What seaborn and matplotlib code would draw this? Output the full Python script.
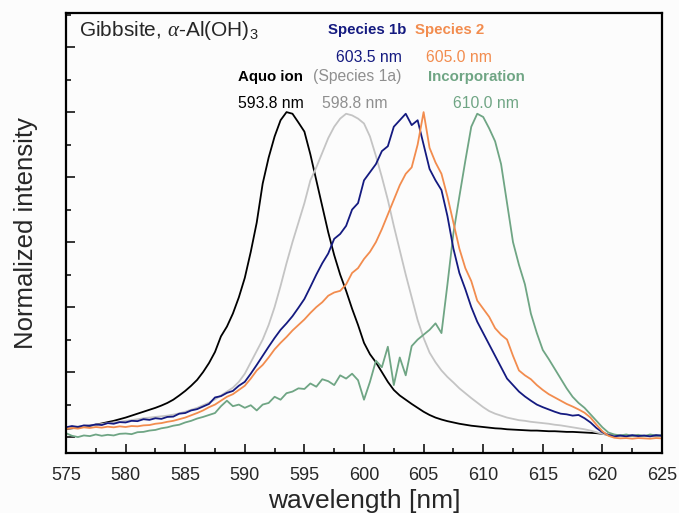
import numpy as np
import pandas as pd
import matplotlib
matplotlib.use("Agg")
import matplotlib.pyplot as plt
from matplotlib.ticker import MultipleLocator
import seaborn as sns

# wavelength grid (nm), 0.5 nm steps from 575 to 625
wavelength = [575.0 + 0.5 * i for i in range(101)]

aquo_ion = [
    0.025, 0.027, 0.029, 0.032, 0.035, 0.038, 0.042, 0.046, 0.050, 0.055,
    0.060, 0.066, 0.072, 0.078, 0.084, 0.090, 0.097, 0.105, 0.115, 0.128,
    0.142, 0.158, 0.176, 0.200, 0.228, 0.262, 0.310, 0.340, 0.380, 0.430,
    0.490, 0.570, 0.660, 0.780, 0.860, 0.925, 0.975, 1.000, 0.995, 0.968,
    0.940, 0.870, 0.790, 0.710, 0.630, 0.560, 0.500, 0.450, 0.395, 0.345,
    0.290, 0.255, 0.230, 0.200, 0.170, 0.145, 0.128, 0.115, 0.102, 0.090,
    0.078, 0.068, 0.060, 0.054, 0.049, 0.045, 0.041, 0.038, 0.035, 0.033,
    0.031, 0.029, 0.027, 0.026, 0.024, 0.023, 0.022, 0.021, 0.020, 0.020,
    0.019, 0.018, 0.018, 0.017, 0.016, 0.016, 0.015, 0.014, 0.013, 0.012,
    0.010, 0.007, 0.005, 0.004, 0.004, 0.003, 0.003, 0.003, 0.003, 0.003,
    0.003,
]

species_1a = [
    0.030, 0.031, 0.033, 0.034, 0.036, 0.038, 0.040, 0.043, 0.045, 0.047,
    0.050, 0.052, 0.055, 0.058, 0.060, 0.062, 0.064, 0.066, 0.069, 0.073,
    0.078, 0.084, 0.090, 0.098, 0.106, 0.116, 0.128, 0.140, 0.152, 0.170,
    0.195, 0.230, 0.265, 0.300, 0.345, 0.400, 0.465, 0.535, 0.600, 0.660,
    0.720, 0.790, 0.830, 0.875, 0.920, 0.955, 0.980, 0.995, 0.990, 0.980,
    0.965, 0.925, 0.865, 0.800, 0.730, 0.650, 0.575, 0.500, 0.430, 0.360,
    0.305, 0.260, 0.230, 0.205, 0.185, 0.168, 0.150, 0.135, 0.120, 0.106,
    0.092, 0.080, 0.072, 0.066, 0.060, 0.056, 0.052, 0.050, 0.047, 0.045,
    0.043, 0.041, 0.038, 0.036, 0.033, 0.030, 0.027, 0.024, 0.020, 0.015,
    0.010, 0.006, 0.004, 0.004, 0.003, 0.004, 0.003, 0.004, 0.003, 0.004,
    0.003,
]

species_1b = [
    0.030, 0.034, 0.031, 0.036, 0.035, 0.039, 0.037, 0.043, 0.041, 0.046,
    0.045, 0.050, 0.049, 0.055, 0.053, 0.058, 0.056, 0.062, 0.063, 0.072,
    0.074, 0.082, 0.086, 0.094, 0.102, 0.122, 0.126, 0.136, 0.142, 0.158,
    0.170, 0.195, 0.222, 0.250, 0.278, 0.305, 0.330, 0.350, 0.372, 0.398,
    0.425, 0.462, 0.500, 0.535, 0.565, 0.610, 0.625, 0.650, 0.700, 0.720,
    0.790, 0.815, 0.840, 0.880, 0.895, 0.955, 0.975, 0.995, 0.960, 0.975,
    0.900, 0.825, 0.790, 0.760, 0.680, 0.580, 0.505, 0.455, 0.400, 0.355,
    0.320, 0.285, 0.250, 0.215, 0.180, 0.160, 0.140, 0.125, 0.112, 0.100,
    0.092, 0.085, 0.078, 0.072, 0.070, 0.066, 0.068, 0.058, 0.045, 0.028,
    0.015, 0.006, 0.002, 0.005, 0.002, 0.006, 0.003, 0.005, 0.002, 0.006,
    0.004,
]

species_2 = [
    0.025, 0.028, 0.026, 0.030, 0.028, 0.031, 0.029, 0.032, 0.030, 0.033,
    0.031, 0.034, 0.033, 0.036, 0.037, 0.041, 0.043, 0.047, 0.050, 0.055,
    0.060, 0.067, 0.074, 0.082, 0.092, 0.100, 0.112, 0.124, 0.132, 0.145,
    0.158, 0.180, 0.205, 0.222, 0.245, 0.270, 0.290, 0.308, 0.328, 0.345,
    0.362, 0.382, 0.400, 0.415, 0.435, 0.445, 0.450, 0.470, 0.505, 0.520,
    0.548, 0.570, 0.600, 0.640, 0.685, 0.730, 0.775, 0.810, 0.830, 0.900,
    1.000, 0.890, 0.845, 0.810, 0.740, 0.660, 0.580, 0.520, 0.480, 0.420,
    0.395, 0.370, 0.335, 0.315, 0.300, 0.250, 0.205, 0.190, 0.178, 0.160,
    0.145, 0.132, 0.122, 0.112, 0.102, 0.094, 0.085, 0.075, 0.060, 0.038,
    0.018, 0.004, -0.002, -0.004, -0.003, -0.005, -0.003, -0.004, -0.005, -0.003,
    -0.004,
]

incorporation = [
    0.012, 0.004, 0.000, 0.005, 0.003, 0.008, 0.004, 0.007, 0.005, 0.010,
    0.011, 0.009, 0.015, 0.016, 0.020, 0.022, 0.027, 0.030, 0.035, 0.038,
    0.045, 0.050, 0.057, 0.062, 0.068, 0.074, 0.095, 0.112, 0.095, 0.100,
    0.090, 0.098, 0.082, 0.100, 0.105, 0.124, 0.115, 0.135, 0.140, 0.150,
    0.148, 0.165, 0.155, 0.178, 0.172, 0.160, 0.190, 0.180, 0.195, 0.175,
    0.115, 0.170, 0.235, 0.215, 0.278, 0.160, 0.245, 0.190, 0.280, 0.300,
    0.315, 0.330, 0.350, 0.320, 0.470, 0.627, 0.740, 0.850, 0.955, 0.995,
    0.985, 0.950, 0.910, 0.840, 0.720, 0.600, 0.530, 0.470, 0.380, 0.320,
    0.268, 0.240, 0.210, 0.180, 0.150, 0.124, 0.105, 0.090, 0.070, 0.050,
    0.030, 0.014, 0.008, 0.005, 0.008, 0.004, 0.007, 0.003, 0.008, 0.005,
    0.006,
]

series_names = ["Aquo ion", "Species 1a", "Incorporation", "Species 1b", "Species 2"]
series_values = [aquo_ion, species_1a, incorporation, species_1b, species_2]
palette = {
    "Aquo ion": "#000000",
    "Species 1a": "#c4c4c4",
    "Incorporation": "#6fa584",
    "Species 1b": "#141a80",
    "Species 2": "#f28c4e",
}

df = pd.concat(
    [pd.DataFrame({"wavelength": wavelength, "intensity": v, "series": n})
     for n, v in zip(series_names, series_values)],
    ignore_index=True,
)

sns.set_style("white")
plt.rcParams["font.family"] = ["Liberation Sans", "DejaVu Sans"]
plt.rcParams["mathtext.fontset"] = "custom"
plt.rcParams["mathtext.rm"] = "Liberation Sans"
plt.rcParams["mathtext.it"] = "Liberation Serif:italic"
plt.rcParams["xtick.bottom"] = True
plt.rcParams["ytick.left"] = True
plt.rcParams["xtick.direction"] = "in"
plt.rcParams["ytick.direction"] = "in"

fig = plt.figure(figsize=(6.79, 5.13), dpi=100, facecolor="#fcfcfc")
ax = fig.add_axes([66 / 679, 60 / 513, 596 / 679, 440 / 513])
ax.set_facecolor("#fcfcfc")

sns.lineplot(data=df, x="wavelength", y="intensity", hue="series",
             hue_order=series_names, palette=palette, estimator=None,
             sort=False, linewidth=1.3, legend=False, ax=ax)

ax.set_xlim(575, 625)
ax.set_ylim(-0.049, 1.305)
ax.xaxis.set_major_locator(MultipleLocator(5))
ax.xaxis.set_minor_locator(MultipleLocator(2.5))
ax.yaxis.set_major_locator(MultipleLocator(0.2))
ax.yaxis.set_minor_locator(MultipleLocator(0.1))
ax.tick_params(axis="both", which="major", direction="in", length=6.5, width=1.1,
               color="black")
ax.tick_params(axis="both", which="minor", direction="in", length=3.3, width=1.1,
               color="black")
ax.tick_params(axis="x", which="both", bottom=True, top=False)
ax.tick_params(axis="x", which="major", labelsize=13, pad=10)
ax.tick_params(axis="y", which="both", left=True, right=False, labelleft=False)
for s in ax.spines.values():
    s.set_visible(True)
    s.set_linewidth(1.6)
    s.set_color("black")

ax.set_xlabel("wavelength [nm]", fontsize=19, labelpad=4)
ax.set_ylabel("Normalized intensity", fontsize=18.5, labelpad=20)

# annotations
ax.text(576.12, 1.251, r"Gibbsite, $\mathit{\alpha}$-Al(OH)$_\mathrm{3}$", fontsize=15,
        ha="left", va="center")
ax.text(597.0, 1.252, "Species 1b", fontsize=10.8, fontweight="bold", color="#141a80",
        ha="left", va="center")
ax.text(604.28, 1.252, "Species 2", fontsize=10.8, fontweight="bold", color="#f28c4e",
        ha="left", va="center")
ax.text(597.65, 1.168, "603.5 nm", fontsize=11.3, color="#141a80", ha="left", va="center")
ax.text(605.18, 1.168, "605.0 nm", fontsize=11.3, color="#f28c4e", ha="left", va="center")
ax.text(589.45, 1.109, "Aquo ion", fontsize=10.8, fontweight="bold", color="black",
        ha="left", va="center")
ax.text(595.70, 1.109, "(Species 1a)", fontsize=11.3, color="#8f8f8f", ha="left", va="center")
ax.text(605.39, 1.109, "Incorporation", fontsize=10.8, fontweight="bold", color="#6fa584",
        ha="left", va="center")
ax.text(589.45, 1.027, "593.8 nm", fontsize=11.3, color="black", ha="left", va="center")
ax.text(596.45, 1.027, "598.8 nm", fontsize=11.3, color="#8f8f8f", ha="left", va="center")
ax.text(607.49, 1.027, "610.0 nm", fontsize=11.3, color="#6fa584", ha="left", va="center")

fig.savefig("out.png", dpi=100, facecolor=fig.get_facecolor())
